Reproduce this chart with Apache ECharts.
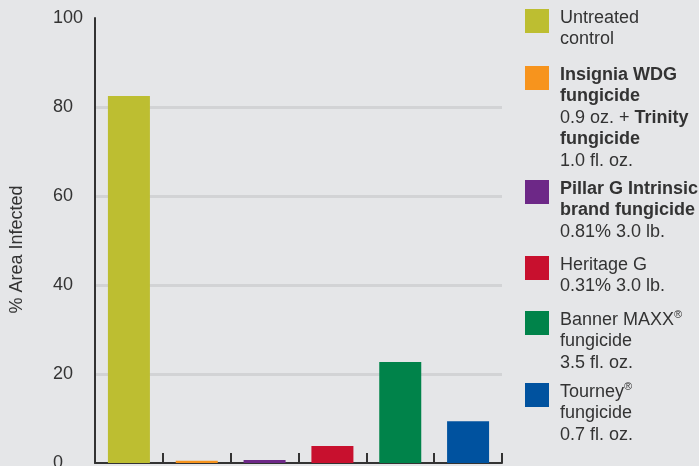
<!DOCTYPE html>
<html>
<head>
<meta charset="utf-8">
<script src="https://cdn.jsdelivr.net/npm/echarts@6/dist/echarts.min.js"></script>
<style>
  html, body { margin: 0; padding: 0; background: #e5e6e8; }
  #main { width: 699px; height: 466px; }
</style>
</head>
<body>
<div id="main"></div>
<script>
// data
var categories = ['Untreated control', 'Insignia WDG + Trinity', 'Pillar G Intrinsic', 'Heritage G', 'Banner MAXX', 'Tourney'];
var values = [82.5, 0.5, 0.7, 3.8, 22.7, 9.4];
var yTicks = [0, 20, 40, 60, 80, 100];
var legendText = [
  ['{n|Untreated}', '{n|control}'],
  ['{b|Insignia WDG}', '{b|fungicide}', '{n|0.9 oz. + }{b|Trinity}', '{b|fungicide}', '{n|1.0 fl. oz.}'],
  ['{b|Pillar G Intrinsic}', '{b|brand fungicide}', '{n|0.81% 3.0 lb.}'],
  ['{n|Heritage G}', '{n|0.31% 3.0 lb.}'],
  ['{n|Banner MAXX}{s|®}', '{n|fungicide}', '{n|3.5 fl. oz.}'],
  ['{n|Tourney}{s|®}', '{n|fungicide}', '{n|0.7 fl. oz.}']
];

var colors = ['#bdbe31', '#f7941d', '#6d2887', '#c8102e', '#00834a', '#00529f'];
var legendTops = [9, 66, 180, 256, 311, 383];
var LH = 21.5;
var font = '"Liberation Sans", Arial, Helvetica, sans-serif';

var myChart = echarts.init(document.getElementById('main'));

var series = categories.map(function (c, i) {
  return {
    name: c,
    type: 'bar',
    barWidth: 42,
    barGap: '-100%',
    itemStyle: { color: colors[i] },
    data: values.map(function (v, j) { return j === i ? v : '-'; })
  };
});

var legends = categories.map(function (c, i) {
  var lines = legendText[i];
  var h = lines.length * LH;
  return {
    data: [c],
    left: 525,
    top: legendTops[i] - 2,
    orient: 'vertical',
    padding: 0,
    selectedMode: false,
    itemWidth: 30,
    itemHeight: h,
    // square at the top of a tall box so it lines up with the first text line
    icon: 'path://M0 0h0.01M0 2h24v24h-24zM30 ' + h + 'h-0.01',
    formatter: function () { return lines.join('\n'); },
    textStyle: {
      color: '#333',
      fontFamily: font,
      fontSize: 18,
      lineHeight: LH,
      rich: {
        n: { fontSize: 18, fontFamily: font, color: '#333', lineHeight: LH },
        b: { fontSize: 18, fontFamily: font, color: '#333', lineHeight: LH, fontWeight: 'bold' },
        s: { fontSize: 11, fontFamily: font, color: '#333', lineHeight: LH, verticalAlign: 'top', padding: [0, 0, 6, 0] }
      }
    }
  };
});

var option = {
  backgroundColor: '#e5e6e8',
  animation: false,
  grid: { left: 95, right: 197, top: 18, bottom: 3, containLabel: false, outerBoundsMode: 'none' },
  legend: legends,
  xAxis: {
    type: 'category',
    data: categories,
    axisLine: { lineStyle: { color: '#333', width: 2 } },
    axisTick: { show: true, interval: 0, inside: true, length: 10, lineStyle: { color: '#333', width: 2 } },
    axisLabel: { show: false },
    splitLine: { show: false }
  },
  yAxis: {
    type: 'value',
    min: 0,
    max: 100,
    interval: 20,
    name: '% Area Infected',
    nameLocation: 'middle',
    nameGap: 69,
    nameTextStyle: { color: '#333', fontSize: 18, fontFamily: font, padding: [0, 18, 0, 0] },
    axisLine: { show: true, lineStyle: { color: '#333', width: 2 } },
    axisTick: { show: false },
    axisLabel: {
      align: 'left',
      margin: 42,
      color: '#333',
      fontSize: 18,
      fontFamily: font,
      customValues: yTicks
    },
    splitLine: { show: true, showMinLine: false, showMaxLine: false, lineStyle: { color: '#d2d3d5', width: 3 } }
  },
  series: series
};

myChart.setOption(option);
window.addEventListener('resize', function () {
  myChart.resize();
});
</script>
</body>
</html>
